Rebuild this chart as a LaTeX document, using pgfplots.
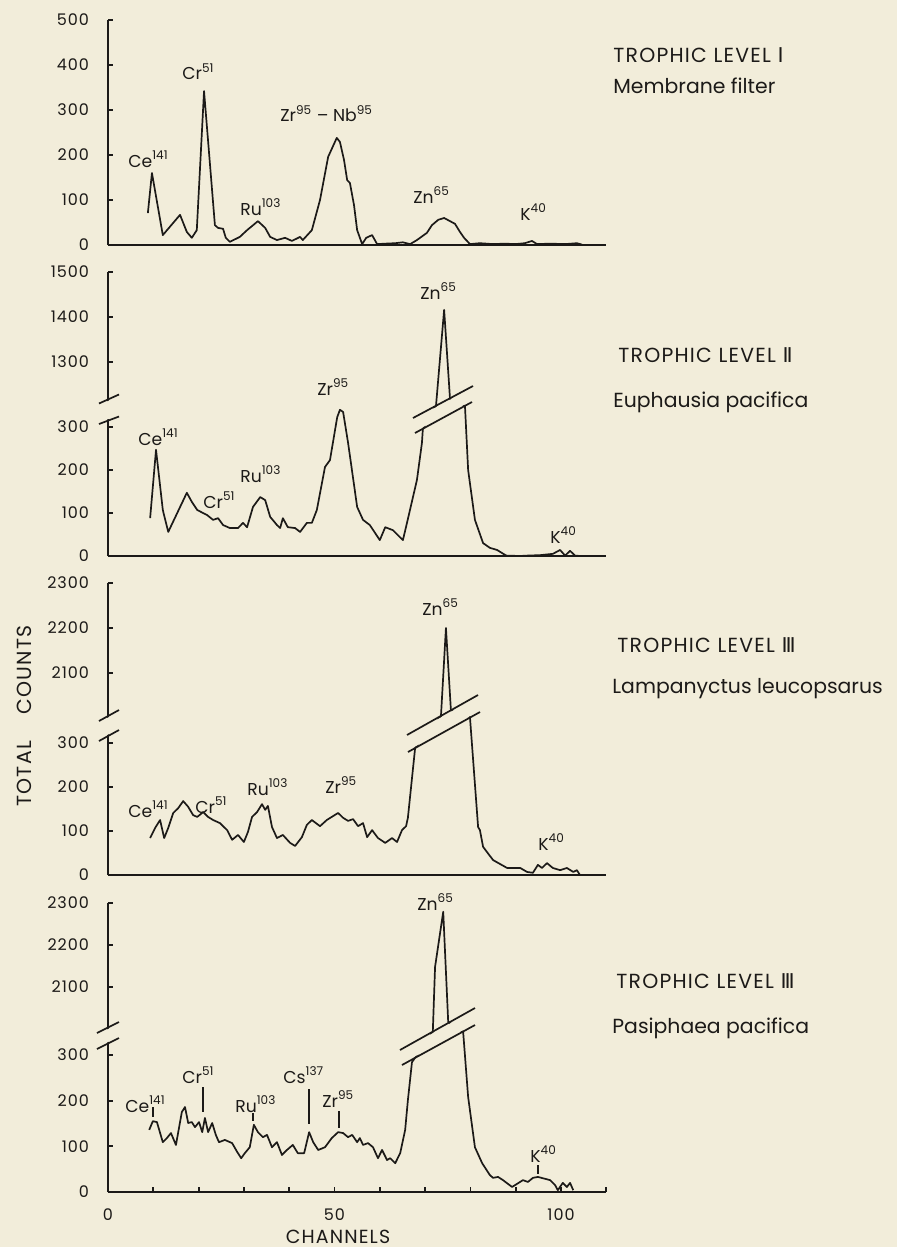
\documentclass[border=0pt]{standalone}
\usepackage{fontspec}
\setmainfont{Poppins}
\newfontfamily\romfont{DejaVu Sans}
\newfontfamily\capsfont[LetterSpace=6]{Poppins}
\usepackage{pgfplots}
\pgfplotsset{compat=1.18}
\definecolor{paper}{RGB}{242,237,218}
\definecolor{ink}{RGB}{28,26,24}
\newcommand\isofont{\fontsize{8.6}{10}\selectfont}
\newcommand\headfont{\capsfont\fontsize{10.2}{12}\selectfont}
\newcommand\subfont{\fontsize{10.2}{12}\selectfont}
\newcommand\iso[2]{#1\textsuperscript{#2}}
\pgfplotsset{
  spec/.style={draw=ink, line width=0.85pt, mark=none, line join=round},
  panel/.style={
    anchor=south west,
    x=2.265pt, xmin=0, xmax=110, ymin=0,
    axis x line=bottom, axis y line=left,
    axis line style={-, line width=0.9pt, draw=ink},
    major tick length=2.6pt,
    every tick/.append style={line width=0.9pt, draw=ink},
    xtick=\empty,
    tick label style={font=\capsfont\fontsize{8}{9}\selectfont, text=ink},
    yticklabel style={xshift=-6pt},
    clip=false,
  }
}
\begin{document}
\begin{tikzpicture}
\fill[paper] (0,0) rectangle (448.5pt,-623.5pt);

% ---------- Trophic level I : membrane filter
\begin{axis}[panel, xtick align=inside, ytick align=inside, at={(54pt,-122.5pt)}, y=0.225pt, ymax=500,
  ytick={0,100,200,300,400,500}, yticklabels={0,100,200,300,400,500}]
\addplot[spec] coordinates {(8.8,71)(9.7,160)(12.1,22)(15.9,67)(17.4,29)(18.5,16)(19.6,33)(21.2,342)(23.6,44)(24.3,38)(25.4,36)(26.0,16)(26.9,7)(29.1,18)(30.7,33)(33.1,53)(34.7,38)(35.8,18)(37.3,11)(39.1,16)(40.6,9)(42.4,18)(43.0,11)(45.0,33)(46.8,100)(48.6,196)(50.5,238)(51.2,229)(52.1,189)(52.8,144)(53.4,138)(54.3,89)(55.0,33)(56.1,2)(57.0,16)(58.3,22)(59.4,2)(61.2,3)(63.4,4)(65.1,6)(66.7,2)(68.2,11)(70.4,27)(71.5,44)(72.9,56)(74.2,60)(75.5,53)(76.6,47)(77.7,29)(78.6,16)(79.9,2)(82.1,4)(85.0,2)(87.6,3)(89.9,2)(92.0,4)(93.6,9)(94.7,2)(97.6,3)(100.9,2)(103.5,4)(104.6,1)};
\end{axis}

% ---------- Trophic level II : Euphausia pacifica
\begin{axis}[panel, xtick align=inside, ytick align=inside, at={(54pt,-278pt)}, y=0.5pt, ymax=1500,
  y coord trafo/.code={\pgfmathparse{(#1<700)*(#1*0.43)+(#1>=700)*(#1*0.45-391)}},
  ytick={0,100,200,300,1300,1400,1500}, yticklabels={0,100,200,300,1300,1400,1500}]
\addplot[spec] coordinates {(9.3,88)(10.6,247)(12.1,107)(13.3,56)(17.4,147)(18.5,126)(19.7,107)(21.9,95)(23.2,84)(24.3,88)(25.4,72)(26.9,65)(28.7,65)(29.8,77)(30.7,67)(32.0,114)(33.6,137)(34.7,130)(35.8,91)(37.3,72)(38.0,65)(38.6,88)(39.7,67)(41.3,65)(42.4,56)(43.9,77)(45.0,77)(46.1,107)(47.9,207)(49.0,223)(50.6,323)(51.2,340)(51.9,335)(53.0,263)(55.0,114)(56.3,84)(57.8,72)(60.0,37)(61.2,67)(62.9,60)(65.1,37)(66.0,77)(68.2,177)(69.3,263)(69.5,295)(72.4,1202)(74.2,1416)(75.5,1218)(78.8,349)(79.5,200)(81.0,84)(82.8,30)(84.3,19)(85.9,14)(87.9,1)(90.9,0)(92.7,1)(95.4,2)(98.2,5)(99.8,14)(100.9,1)(102.0,12)(103.1,1)(104.2,0)};
\end{axis}

% ---------- Trophic level III : Lampanyctus leucopsarus
\begin{axis}[panel, xtick align=inside, ytick align=inside, at={(54pt,-437.5pt)}, y=0.5pt, ymax=2300,
  y coord trafo/.code={\pgfmathparse{(#1<700)*(#1*0.44)+(#1>=700)*(#1*0.45-743)}},
  ytick={0,100,200,300,2100,2200,2300}, yticklabels={0,100,200,300,2100,2200,2300}]
\addplot[spec] coordinates {(9.3,84)(10.4,107)(11.5,125)(12.4,84)(13.3,107)(14.4,141)(15.5,152)(16.6,168)(17.7,155)(18.8,136)(19.7,132)(21.0,143)(22.1,132)(23.2,125)(24.7,118)(26.3,102)(27.4,80)(28.7,91)(30.0,75)(30.9,98)(31.8,132)(32.9,143)(34.0,161)(34.7,148)(35.3,157)(36.2,109)(37.3,84)(38.6,91)(40.2,73)(41.3,66)(42.8,86)(43.9,114)(45.0,125)(46.8,111)(48.3,125)(49.7,134)(50.8,141)(51.9,130)(53.0,123)(54.1,127)(55.2,111)(56.3,118)(57.2,86)(58.3,102)(59.6,84)(61.2,73)(62.7,84)(63.8,75)(64.9,102)(65.8,111)(66.2,130)(67.8,289)(73.5,2004)(74.6,2200)(75.7,2017)(79.9,359)(81.7,109)(82.1,102)(82.8,64)(85.0,34)(88.1,16)(91.0,16)(92.5,7)(93.8,5)(94.9,23)(95.8,16)(96.9,27)(98.2,16)(99.8,11)(101.3,16)(102.7,7)(103.5,11)(104.2,0)};
\end{axis}

% ---------- Trophic level III : Pasiphaea pacifica
\begin{axis}[panel, xtick align=inside, ytick align=inside, at={(54pt,-596pt)}, y=0.5pt, ymax=2300,
  y coord trafo/.code={\pgfmathparse{(#1<700)*(#1*0.457)+(#1>=700)*(#1*0.42-677)}},
  ytick={0,100,200,300,2100,2200,2300}, yticklabels={0,100,200,300,2100,2200,2300},
  xtick={0,10,...,110}, xticklabels={0,,,,,50,,,,,100,},
  xticklabel style={yshift=-5pt}]
\addplot[spec] coordinates {(9.1,136)(9.9,155)(10.8,153)(12.1,109)(13.0,118)(13.9,129)(15.0,103)(16.3,175)(17.0,186)(17.7,151)(18.5,153)(19.2,142)(20.1,153)(20.8,131)(21.4,162)(22.1,131)(23.0,151)(23.8,125)(24.5,109)(25.8,114)(27.4,107)(28.5,88)(29.4,74)(30.2,85)(31.3,98)(32.2,147)(33.1,131)(34.2,120)(35.1,125)(36.2,98)(37.3,109)(38.4,81)(39.5,92)(40.8,103)(41.9,85)(43.3,85)(44.4,131)(45.3,109)(46.4,92)(47.9,98)(49.4,118)(50.8,131)(51.9,129)(53.0,120)(53.9,125)(55.0,109)(55.6,118)(56.3,103)(57.4,107)(58.5,98)(59.6,74)(60.5,92)(61.6,70)(62.3,74)(63.4,63)(64.5,85)(65.6,136)(66.2,201)(67.1,284)(71.7,1993)(72.2,2148)(74.0,2279)(75.1,2017)(78.4,350)(79.5,208)(81.0,98)(82.6,63)(84.3,37)(85.0,31)(86.1,33)(87.2,26)(89.2,11)(91.6,26)(92.7,22)(93.8,31)(94.9,33)(97.6,26)(98.7,15)(99.3,4)(100.4,20)(101.3,11)(102.0,20)(102.7,4)};
\end{axis}

\begin{scope}[x=0.5pt,y=-0.5pt]
  % y-axis breaks
  \fill[paper] (99,405) -- (119,396) -- (119,415) -- (99,422.5) -- cycle;
  \draw[ink, line width=0.85pt] (99,403.5) -- (119,394.5) (99,424) -- (119,416.5);
  \fill[paper] (99,722.5) -- (119,711.5) -- (119,728.5) -- (99,739.5) -- cycle;
  \draw[ink, line width=0.85pt] (99,721) -- (119,710) (99,741) -- (119,730);
  \fill[paper] (97,1034.5) -- (119,1023.5) -- (119,1036.5) -- (97,1047.5) -- cycle;
  \draw[ink, line width=0.85pt] (97,1033) -- (119,1022) (97,1049) -- (119,1038);
  % Zn peak breaks
  \fill[paper] (413,419.5) -- (473,387.5) -- (472,400.5) -- (415,431.5) -- cycle;
  \draw[ink, line width=0.85pt] (413,418) -- (473,386) (415,433) -- (472,402);
  \fill[paper] (407,736.5) -- (478,696.5) -- (480,710.5) -- (408,750.5) -- cycle;
  \draw[ink, line width=0.85pt] (407,735) -- (478,695) (408,752) -- (480,712);
  \fill[paper] (400,1051.5) -- (475,1009.5) -- (475,1023.5) -- (402,1063.5) -- cycle;
  \draw[ink, line width=0.85pt] (400,1050) -- (475,1008) (402,1065) -- (475,1025);
  % leader ticks, panel 4
  \draw[ink, line width=0.8pt] (153,1107) -- (153,1117) (203,1087) -- (203,1112)
    (253,1113) -- (253,1121) (309,1089) -- (309,1124) (339,1111) -- (339,1128)
    (538,1165) -- (538,1174);

  \begin{scope}[every node/.style={inner sep=0pt, anchor=base west, text=ink, font=\isofont}]
  % panel 1
  \node at (128,167) {\iso{Ce}{141}};
  \node at (182,80) {\iso{Cr}{51}};
  \node at (240,215) {\iso{Ru}{103}};
  \node at (280,122) {\iso{Zr}{95} -- \iso{Nb}{95}};
  \node at (413,203) {\iso{Zn}{65}};
  \node at (520,220) {\iso{K}{40}};
  % panel 2
  \node at (420,299) {\iso{Zn}{65}};
  \node at (317,395) {\iso{Zr}{95}};
  \node at (138,445) {\iso{Ce}{141}};
  \node at (240,482) {\iso{Ru}{103}};
  \node at (203,508) {\iso{Cr}{51}};
  \node at (550,543) {\iso{K}{40}};
  % panel 3
  \node at (422,615) {\iso{Zn}{65}};
  \node at (128,817) {\iso{Ce}{141}};
  \node at (195,813) {\iso{Cr}{51}};
  \node at (247,795) {\iso{Ru}{103}};
  \node at (325,793) {\iso{Zr}{95}};
  \node at (538,850) {\iso{K}{40}};
  % panel 4
  \node at (417,910) {\iso{Zn}{65}};
  \node at (125,1112) {\iso{Ce}{141}};
  \node at (182,1083) {\iso{Cr}{51}};
  \node at (235,1112) {\iso{Ru}{103}};
  \node at (283,1083) {\iso{Cs}{137}};
  \node at (322,1107) {\iso{Zr}{95}};
  \node at (530,1162) {\iso{K}{40}};
  % titles
  \node[font=\headfont] at (613,63) {TROPHIC LEVEL {\romfont Ⅰ}};
  \node[font=\subfont] at (613,94) {Membrane filter};
  \node[font=\headfont] at (618,362) {TROPHIC LEVEL {\romfont Ⅱ}};
  \node[font=\subfont] at (613,407) {Euphausia pacifica};
  \node[font=\headfont] at (617,652) {TROPHIC LEVEL {\romfont Ⅲ}};
  \node[font=\subfont] at (612,693) {Lampanyctus leucopsarus};
  \node[font=\headfont] at (616,988) {TROPHIC LEVEL {\romfont Ⅲ}};
  \node[font=\subfont] at (612,1033) {Pasiphaea pacifica};
  \end{scope}
  \node[inner sep=0pt, rotate=90, text=ink, font=\headfont] at (24,716) {TOTAL\hspace{1.3em}COUNTS};
  \node[inner sep=0pt, anchor=base, text=ink, font=\capsfont\fontsize{9.5}{11}\selectfont] at (338,1243) {CHANNELS};
\end{scope}
\end{tikzpicture}
\end{document}
